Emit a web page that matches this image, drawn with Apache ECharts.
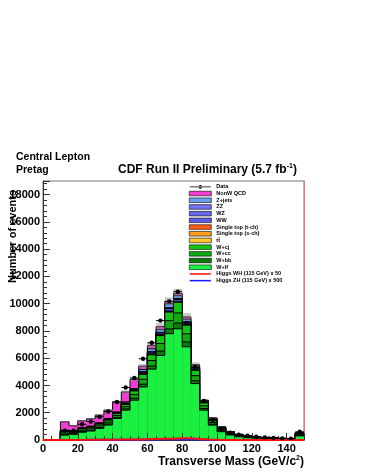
<!DOCTYPE html>
<html>
<head>
<meta charset="utf-8">
<script src="https://cdn.jsdelivr.net/npm/echarts@6/dist/echarts.min.js"></script>
<style>
  html, body { margin: 0; padding: 0; background: #fff; }
  #main { width: 365px; height: 473px; }
</style>
</head>
<body>
<div id="main"></div>
<script>
// lower edges of the 5 GeV mass bins
var massBins = [10, 15, 20, 25, 30, 35, 40, 45, 50, 55, 60, 65, 70, 75, 80, 85, 90, 95, 100, 105, 110, 115, 120, 125, 130, 135, 140, 145];
var higgsBins = [0, 5, 10, 15, 20, 25, 30, 35, 40, 45, 50, 55, 60, 65, 70, 75, 80, 85, 90, 95, 100, 105, 110, 115, 120, 125, 130, 135, 140, 145];
var binWidth = 5;

// stack components, bottom to top
var wlf    = [360, 420, 570, 660, 850, 1095, 1580, 2190, 2920, 3890, 5200, 6200, 7800, 8160, 6840, 4140, 2190, 1095, 610, 370, 240, 170, 135, 100, 75, 60, 45, 300];
var wbb    = [60, 44, 55, 58, 70, 80, 80, 92, 150, 205, 230, 325, 350, 425, 350, 210, 117, 70, 43, 29, 20, 15, 12, 10, 8, 7, 6, 28];
var wcc    = [100, 76, 95, 102, 120, 140, 140, 158, 260, 355, 400, 555, 600, 735, 600, 370, 203, 120, 74, 49, 34, 27, 21, 17, 13, 11, 9, 50];
var wcj    = [105, 80, 100, 110, 125, 145, 145, 165, 270, 370, 420, 580, 630, 780, 630, 390, 215, 125, 78, 52, 36, 28, 22, 18, 14, 12, 10, 52];
var ttbar  = [8, 5, 6, 7, 8, 10, 10, 15, 14, 28, 35, 35, 45, 40, 40, 40, 25, 35, 35, 30, 22, 20, 16, 13, 11, 10, 8, 35];
var stopS  = [2, 1, 2, 2, 2, 3, 3, 4, 4, 7, 8, 8, 10, 9, 9, 8, 5, 7, 6, 5, 4, 3, 3, 2, 2, 2, 1, 5];
var stopT  = [4, 3, 3, 4, 4, 5, 5, 8, 7, 14, 17, 17, 22, 19, 18, 16, 9, 12, 11, 9, 6, 5, 4, 4, 3, 3, 2, 8];
var ww     = [28, 17, 23, 25, 28, 34, 34, 55, 48, 100, 125, 125, 175, 140, 125, 100, 40, 50, 35, 25, 17, 16, 11, 9, 7, 6, 6, 22];
var wz     = [8, 5, 6, 7, 8, 10, 10, 15, 14, 28, 35, 35, 48, 40, 35, 30, 12, 15, 12, 9, 6, 6, 4, 4, 3, 2, 2, 8];
var zz     = [3, 2, 2, 3, 3, 4, 4, 6, 5, 10, 13, 13, 18, 15, 13, 11, 4, 5, 4, 3, 2, 2, 2, 1, 1, 1, 1, 3];
var zjets  = [47, 27, 38, 42, 47, 54, 54, 87, 78, 163, 207, 207, 292, 227, 200, 150, 60, 66, 47, 34, 23, 20, 14, 12, 9, 8, 7, 29];
var qcd    = [610, 365, 510, 535, 560, 610, 730, 730, 680, 250, 245, 220, 170, 170, 170, 60, 40, 30, 20, 15, 10, 8, 6, 5, 4, 3, 3, 10];

var dataCounts = [690, 680, 1150, 1350, 1700, 2090, 2790, 3850, 4550, 5960, 7130, 8760, 10170, 10880, 8590, 5350, 2870, 1480, 830, 540, 390, 310, 240, 190, 150, 120, 90, 600];

var higgsWH = [0, 0, 5, 8, 10, 14, 18, 22, 28, 35, 45, 55, 70, 85, 100, 120, 130, 80, 30, 12, 6, 4, 3, 2, 2, 1, 1, 1, 1, 4];
var higgsZH = [0, 0, 3, 5, 7, 10, 13, 16, 20, 25, 30, 38, 45, 55, 60, 65, 55, 30, 10, 4, 2, 1, 1, 1, 0, 0, 0, 0, 0, 2];

var yTicks = [0, 2000, 4000, 6000, 8000, 10000, 12000, 14000, 16000, 18000];
var xTicks = [0, 20, 40, 60, 80, 100, 120, 140];

var FONT = '"Liberation Sans", Arial, Helvetica, sans-serif';

var layers = [
  { name: 'W+lf', values: wlf, color: '#1aef42' },
  { name: 'W+bb', values: wbb, color: '#0b7a0b' },
  { name: 'W+cc', values: wcc, color: '#12a812' },
  { name: 'W+cj', values: wcj, color: '#14c414' },
  { name: 't\u0074\u0304', values: ttbar, color: '#ffc82a' },
  { name: 'Single top (s-ch)', values: stopS, color: '#ff9e1e' },
  { name: 'Single top (t-ch)', values: stopT, color: '#ff5a18' },
  { name: 'WW', values: ww, color: '#5c5ce4' },
  { name: 'WZ', values: wz, color: '#6868ee' },
  { name: 'ZZ', values: zz, color: '#7272f4' },
  { name: 'Z+jets', values: zjets, color: '#6a9ff2' },
  { name: 'NonW QCD', values: qcd, color: '#f23ed0' }
];

// cumulative tops, ROOT-style: each cumulative histogram drawn from 0, top layer first
var cum = [];
layers.forEach(function (layer, k) {
  cum[k] = layer.values.map(function (v, i) { return v + (k > 0 ? cum[k - 1][i] : 0); });
});
var total = cum[cum.length - 1];

function stackRender(params, api) {
  var x0 = api.value(0), x1 = api.value(1);
  var tl = api.coord([x0, api.value(2)]);
  var br = api.coord([x1, 0]);
  var prev = api.coord([x0, api.value(3)]);
  return {
    type: 'group',
    children: [
      { type: 'rect', shape: { x: tl[0], y: tl[1], width: br[0] - tl[0], height: br[1] - tl[1] },
        style: { fill: api.visual('color') } },
      { type: 'polyline', shape: { points: [[tl[0], prev[1]], [tl[0], tl[1]], [br[0], tl[1]]] },
        style: { stroke: '#000', lineWidth: 1, fill: 'none' } }
    ]
  };
}

var stackSeries = [];
for (var k = layers.length - 1; k >= 0; k--) {
  (function (k) {
    stackSeries.push({
      name: layers[k].name,
      type: 'custom',
      renderItem: stackRender,
      clip: true,
      itemStyle: { color: layers[k].color },
      encode: { x: [0, 1], y: 2 },
      data: massBins.map(function (lo, i) {
        return [lo, lo + binWidth, cum[k][i], i > 0 ? cum[k][i - 1] : 0];
      })
    });
  })(k);
}

// systematic band on the total prediction
var bandSeries = {
  name: 'band',
  type: 'custom',
  clip: true,
  renderItem: function (params, api) {
    var t = api.coord([api.value(0), api.value(2) * 1.03]);
    var b = api.coord([api.value(1), api.value(2) * 0.97]);
    return { type: 'rect', shape: { x: t[0], y: t[1], width: b[0] - t[0], height: b[1] - t[1] },
             style: { fill: 'rgba(130,130,130,0.45)' } };
  },
  encode: { x: [0, 1], y: 2 },
  data: massBins.map(function (lo, i) { return [lo, lo + binWidth, total[i]]; })
};

var dataSeries = {
  name: 'Data',
  type: 'custom',
  z: 12,
  clip: true,
  itemStyle: { color: '#000' },
  renderItem: function (params, api) {
    var x0 = api.value(0), x1 = api.value(1), y = api.value(2), xm = (x0 + x1) / 2;
    var e = Math.sqrt(y);
    var l = api.coord([x0, y]), r = api.coord([x1, y]);
    var lo = api.coord([xm, y - e]), hi = api.coord([xm, y + e]);
    return {
      type: 'group',
      children: [
        { type: 'line', shape: { x1: l[0], y1: l[1], x2: r[0], y2: r[1] }, style: { stroke: '#000', lineWidth: 1 } },
        { type: 'line', shape: { x1: lo[0], y1: lo[1], x2: hi[0], y2: hi[1] }, style: { stroke: '#000', lineWidth: 1 } },
        { type: 'circle', shape: { cx: lo[0], cy: l[1], r: 2.2 }, style: { fill: '#000' } }
      ]
    };
  },
  encode: { x: [0, 1], y: 2 },
  data: massBins.map(function (lo, i) { return [lo, lo + binWidth, dataCounts[i]]; })
};

function higgsLine(name, values, color) {
  var pts = higgsBins.map(function (lo, i) { return [lo, values[i]]; });
  pts.push([higgsBins[higgsBins.length - 1] + binWidth, values[values.length - 1]]);
  return {
    name: name, type: 'line', step: 'end', symbol: 'none', z: 11, clip: true,
    itemStyle: { color: color },
    lineStyle: { color: color, width: 2 },
    data: pts
  };
}

var boxStyle = function (c) { return { color: c, borderColor: '#000', borderWidth: 0.6 }; };
var legendData = [
  { name: 'Data', icon: 'path://M0,0 M0,2 L22,2 L22,2.8 L0,2.8 Z M9,2.4 A2,2 0 1 0 13,2.4 A2,2 0 1 0 9,2.4 Z M22,4.8',
    itemStyle: { color: '#000', borderWidth: 0 } }
];
for (var j = layers.length - 1; j >= 0; j--) {
  legendData.push({ name: layers[j].name, icon: 'rect', itemStyle: boxStyle(layers[j].color) });
}
legendData.push({ name: 'Higgs WH (115 GeV) x 50', icon: 'path://M0,0 M0,1.6 L22,1.6 L22,3.2 L0,3.2 Z M22,4.8',
  itemStyle: { color: '#ff1010', borderWidth: 0 } });
legendData.push({ name: 'Higgs ZH (115 GeV) x 500', icon: 'path://M0,0 M0,1.6 L22,1.6 L22,3.2 L0,3.2 Z M22,4.8',
  itemStyle: { color: '#1a1aff', borderWidth: 0 } });

var chart = echarts.init(document.getElementById('main'));
chart.setOption({
  animation: false,
  backgroundColor: '#fff',
  title: [
    { text: 'Central Lepton', left: 16, top: 151, padding: 0,
      textStyle: { fontFamily: FONT, fontWeight: 'bold', fontSize: 10.5, lineHeight: 12, color: '#000' } },
    { text: 'Pretag', left: 16, top: 164, padding: 0,
      textStyle: { fontFamily: FONT, fontWeight: 'bold', fontSize: 10.5, lineHeight: 12, color: '#000' } },
    { text: 'CDF Run II Preliminary (5.7 fb{sup|-1})', left: 118, top: 163, padding: 0,
      textStyle: { fontFamily: FONT, fontWeight: 'bold', fontSize: 12, lineHeight: 14, color: '#000',
        rich: { sup: { fontFamily: FONT, fontWeight: 'bold', fontSize: 7, verticalAlign: 'top', lineHeight: 14, color: '#000' } } } },
    { text: 'Transverse Mass (GeV/c{sup|2})', right: 61, top: 455, padding: 0,
      textStyle: { fontFamily: FONT, fontWeight: 'bold', fontSize: 12, lineHeight: 14, color: '#000',
        rich: { sup: { fontFamily: FONT, fontWeight: 'bold', fontSize: 7, verticalAlign: 'top', lineHeight: 14, color: '#000' } } } }
  ],
  graphic: [
    { type: 'text', x: 12.5, y: 190, rotation: Math.PI / 2, z: 100,
      style: { text: 'Number of events', align: 'right', verticalAlign: 'middle',
        font: 'bold 11px ' + FONT, fill: '#000' } }
  ],
  legend: {
    orient: 'vertical', left: 189, top: 183.5, padding: 0, itemGap: 0,
    itemWidth: 22, itemHeight: 4.6,
    selectedMode: false,
    textStyle: { fontFamily: FONT, fontWeight: 'bold', fontSize: 5.5, lineHeight: 6.7, color: '#000', padding: 0 },
    data: legendData
  },
  grid: { left: 43, right: 61, top: 181, bottom: 33, show: true, borderColor: '#777', borderWidth: 1 },
  xAxis: {
    type: 'value', min: 0, max: 150, interval: 20, z: 10,
    axisLine: { show: true, lineStyle: { color: '#333', width: 1 } },
    axisTick: { show: true, inside: true, length: 7, lineStyle: { color: '#333' } },
    minorTick: { show: true, splitNumber: 4, length: 4, lineStyle: { color: '#333' } },
    splitLine: { show: false },
    axisLabel: { showMaxLabel: false, margin: 3, color: '#000', fontFamily: FONT, fontWeight: 'bold', fontSize: 11,
      formatter: function (v) { return xTicks.indexOf(v) >= 0 ? String(v) : ''; } }
  },
  yAxis: [
    {
      type: 'value', min: 0, max: 19000, interval: 2000, z: 10,
      axisLine: { show: true, lineStyle: { color: '#333', width: 1 } },
      axisTick: { show: true, inside: true, length: 7, lineStyle: { color: '#333' } },
      minorTick: { show: true, splitNumber: 5, length: 4, lineStyle: { color: '#333' } },
      splitLine: { show: false },
      axisLabel: { showMaxLabel: false, margin: 3, color: '#000', fontFamily: FONT, fontWeight: 'bold', fontSize: 11,
        formatter: function (v) { return yTicks.indexOf(v) >= 0 ? String(v) : ''; } }
    },
    {
      type: 'value', position: 'right', min: 0, max: 19000, z: 10,
      axisLine: { show: true, lineStyle: { color: '#e07878', width: 1 } },
      axisTick: { show: false }, axisLabel: { show: false }, splitLine: { show: false }
    }
  ],
  series: stackSeries.concat([
    bandSeries,
    higgsLine('Higgs ZH (115 GeV) x 500', higgsZH, '#1a1aff'),
    higgsLine('Higgs WH (115 GeV) x 50', higgsWH, '#ff1010'),
    dataSeries
  ])
});
</script>
</body>
</html>
